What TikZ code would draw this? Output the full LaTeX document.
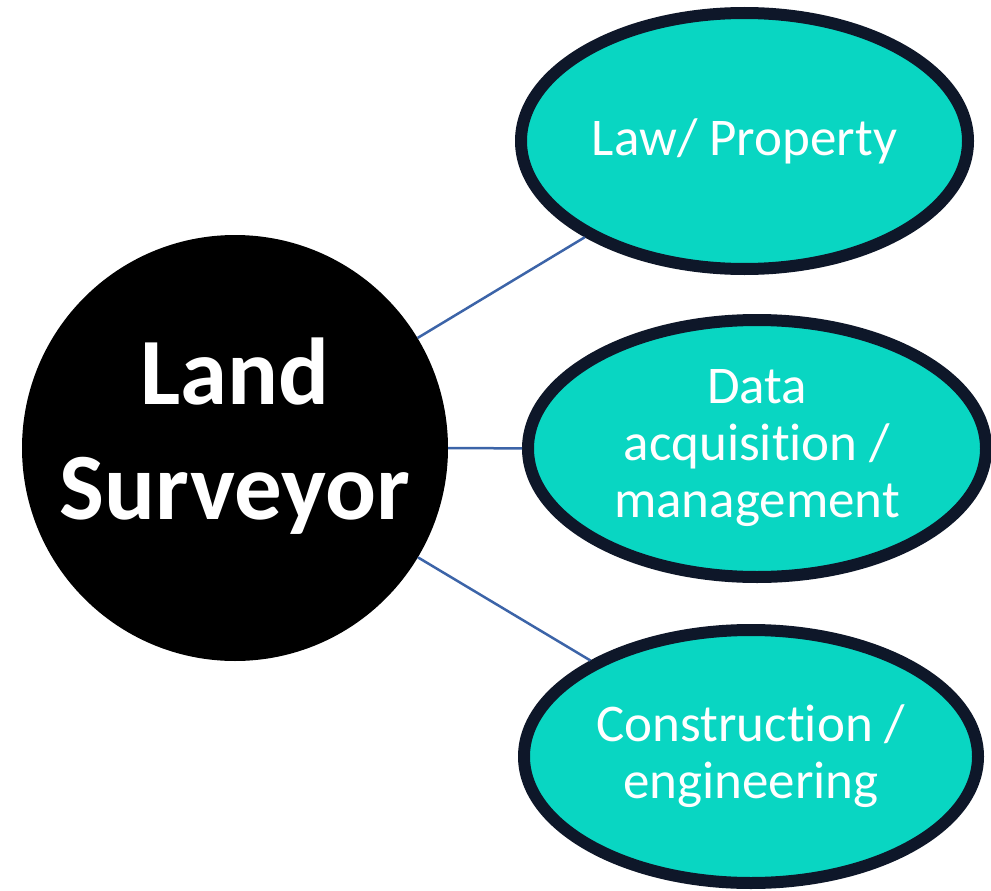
\documentclass[tikz,border=0pt]{standalone}
\usepackage{fontspec}
\setmainfont{Carlito}[Ligatures={NoCommon}]
\usetikzlibrary{shapes.geometric}
\definecolor{teal}{RGB}{9,214,194}
\definecolor{rim}{RGB}{14,23,41}
\definecolor{link}{RGB}{60,100,168}
\begin{document}
\begin{tikzpicture}[x=1pt,y=-1pt]
\tikzset{topic/.style={ellipse,draw=rim,line width=12pt,fill=teal,text=white,
  inner sep=0pt,align=center,font=\fontsize{53}{57}\selectfont}}
\tikzset{linkline/.style={draw=link,line width=2.5pt}}
\useasboundingbox (0,0) rectangle (991,891);
% Draw the centre
\node (land) at (235,448) [circle,fill=black,minimum size=426pt] {};
\node (landtext) at ([yshift=12pt]land.center) [text=white,align=center,
  font=\fontsize{95}{115}\selectfont\bfseries] {Land\\Surveyor};
% the topics
\node (law) at (744.5,141) [topic,minimum width=447pt,minimum height=256pt] {Law/ Property};
\node (data) at (757,448.5) [topic,minimum width=458pt,minimum height=257pt] {Data\\acquisition /\\management};
\node (build) at (751,756.5) [topic,minimum width=454pt,minimum height=253pt] {Construction /\\engineering};
% the connectors
\foreach \n in {law,data,build} {
\draw [linkline] (land) -- (\n);
}
\end{tikzpicture}
\end{document}
